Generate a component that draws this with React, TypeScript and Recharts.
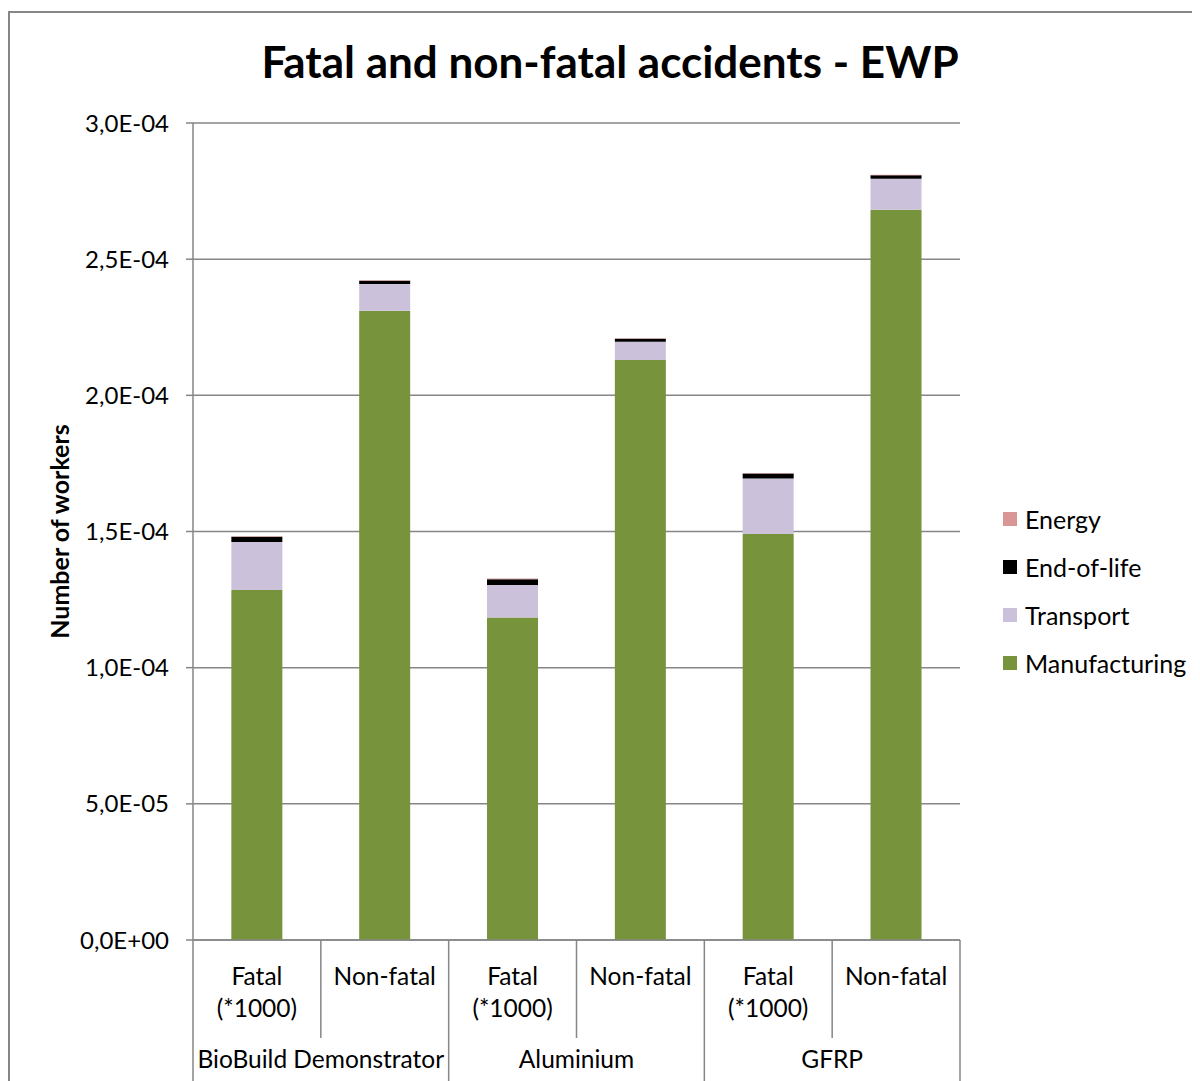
import React from "react";
import { BarChart, Bar, XAxis, YAxis, CartesianGrid, Legend } from "recharts";

// categories (two-level axis)
const categories = ["Fatal\n(*1000)", "Non-fatal", "Fatal\n(*1000)", "Non-fatal", "Fatal\n(*1000)", "Non-fatal"];
const groups = ["BioBuild Demonstrator", "BioBuild Demonstrator", "Aluminium", "Aluminium", "GFRP", "GFRP"];

// series values (number of workers)
const manufacturing = [1.285e-4, 2.311e-4, 1.184e-4, 2.13e-4, 1.491e-4, 2.681e-4];
const transport = [1.76e-5, 9.8e-6, 1.2e-5, 6.7e-6, 2.04e-5, 1.14e-5];
const endOfLife = [2.0e-6, 1.2e-6, 2.1e-6, 1.1e-6, 1.8e-6, 1.3e-6];
const energy = [2e-7, 2e-7, 2e-7, 2e-7, 2e-7, 2e-7];

const yTicks = [0, 5e-5, 1e-4, 1.5e-4, 2e-4, 2.5e-4, 3e-4];

const series = [
  { key: "manufacturing", name: "Manufacturing", color: "#77933C" },
  { key: "transport", name: "Transport", color: "#CCC1DA" },
  { key: "endOfLife", name: "End-of-life", color: "#000000" },
  { key: "energy", name: "Energy", color: "#D99694" },
];

const data = categories.map((c, i) => ({
  name: c,
  group: groups[i],
  manufacturing: manufacturing[i],
  transport: transport[i],
  endOfLife: endOfLife[i],
  energy: energy[i],
}));

const FONT = "Lato, 'Open Sans', sans-serif";
const GRAY = "#868686";

const W = 1190;
const H = 1068;
const M = { top: 110, right: 240, left: 0, bottom: 0 };
const Y_W = 183;
const X_H = 141;
const bandHalf = (W - M.right - Y_W) / data.length / 2;

// "3,0E-04" style
const fmt = (v: number) => {
  const s = v.toExponential(1).replace(".", ",");
  const m = s.match(/^(.*)e([+-])(\d+)$/);
  if (!m) return s;
  return m[1] + "E" + m[2] + m[3].padStart(2, "0");
};

const CatTick = (props: any) => {
  const { x, y, index } = props;
  const lines = String(props.payload.value).split("\n");
  const left = x - bandHalf;
  const isGroupStart = index % 2 === 0;
  return (
    <g>
      <line x1={left} y1={y} x2={left} y2={y + (isGroupStart ? X_H : 98)} stroke={GRAY} strokeWidth={1.5} />
      {index === data.length - 1 && (
        <line x1={x + bandHalf} y1={y} x2={x + bandHalf} y2={y + X_H} stroke={GRAY} strokeWidth={1.5} />
      )}
      {lines.map((l, k) => (
        <text key={k} x={x} y={y + 35 + k * 32} textAnchor="middle" dominantBaseline="central" fontSize={24.5} fill="#000" fontFamily={FONT}>
          {l}
        </text>
      ))}
      {index % 2 === 1 && (
        <text x={left} y={y + 118} textAnchor="middle" dominantBaseline="central" fontSize={24.5} fill="#000" fontFamily={FONT}>
          {groups[index]}
        </text>
      )}
    </g>
  );
};

const LegendBox = () => (
  <div style={{ fontFamily: FONT, fontSize: 25, color: "#000" }}>
    {[...series].reverse().map((s) => (
      <div key={s.key} style={{ display: "flex", alignItems: "center", height: 48 }}>
        <span style={{ width: 14, height: 14, background: s.color, display: "inline-block", marginRight: 8 }} />
        {s.name}
      </div>
    ))}
  </div>
);

export default function App() {
  return (
    <div style={{ paddingTop: 3, fontFamily: FONT }}>
      <div style={{ width: 1190, height: 1070, borderLeft: `2px solid ${GRAY}`, borderTop: `2px solid ${GRAY}`, overflow: "hidden" }}>
        <BarChart width={W} height={H} data={data} margin={M} barCategoryGap="30%">
          <text x={600} y={48} textAnchor="middle" dominantBaseline="central" fontSize={44} fontWeight="bold" fontFamily={FONT} fill="#000">
            Fatal and non-fatal accidents - EWP
          </text>
          <CartesianGrid vertical={false} stroke={GRAY} strokeWidth={1.5} />
          <XAxis
            dataKey="name"
            height={X_H}
            interval={0}
            tickLine={false}
            tickSize={0}
            tickMargin={0}
            axisLine={{ stroke: GRAY, strokeWidth: 1.5 }}
            tick={<CatTick />}
          />
          <YAxis
            width={Y_W}
            domain={[0, 3e-4]}
            ticks={yTicks}
            tickFormatter={fmt}
            tickSize={7}
            tickMargin={17}
            axisLine={{ stroke: GRAY, strokeWidth: 1.5 }}
            tickLine={{ stroke: GRAY, strokeWidth: 1.5 }}
            tick={{ fontSize: 24, fill: "#000", fontFamily: FONT }}
            label={{
              value: "Number of workers",
              angle: -90,
              position: "insideLeft",
              offset: 50,
              style: { fontSize: 25, fontWeight: "bold", fill: "#000", fontFamily: FONT, textAnchor: "middle" },
            }}
          />
          <Legend
            layout="horizontal"
            verticalAlign="middle"
            content={<LegendBox />}
            wrapperStyle={{ position: "absolute", left: 993, top: 482, width: 200 }}
          />
          {series.map((s) => (
            <Bar key={s.key} dataKey={s.key} name={s.name} stackId="a" fill={s.color} isAnimationActive={false} />
          ))}
        </BarChart>
      </div>
    </div>
  );
}
